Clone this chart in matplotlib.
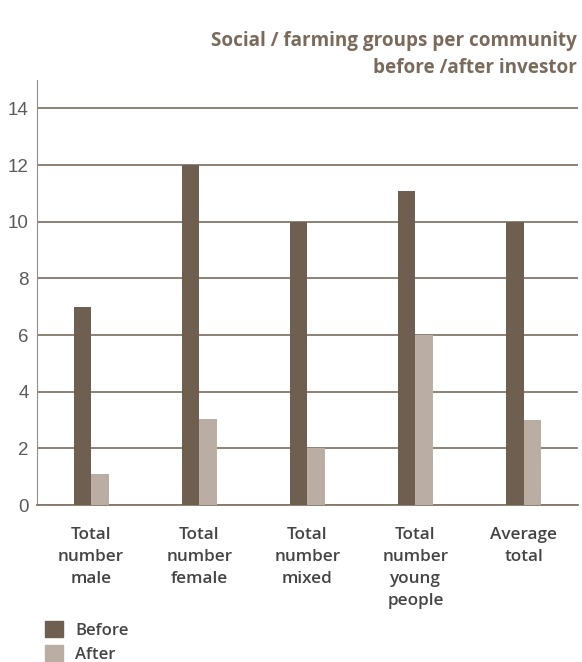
import numpy as np
import matplotlib.pyplot as plt
from matplotlib.patches import Patch

# data
categories = ["Total\nnumber\nmale", "Total\nnumber\nfemale", "Total\nnumber\nmixed",
              "Total\nnumber\nyoung\npeople", "Average\ntotal"]
before = [7.0, 12.0, 10.0, 11.1, 10.0]
after = [1.1, 3.05, 2.0, 6.0, 3.0]
yticks = [0, 2, 4, 6, 8, 10, 12, 14]

c_before = "#6f5f50"
c_after = "#b9ada4"
c_grid = "#85776a"
lab_font = {"family": "Open Sans", "weight": "semibold"}

fig = plt.figure(figsize=(5.82, 6.62), dpi=100)
ax = fig.add_axes([0.0636, 0.237, 0.929, 0.642])

x = np.arange(len(categories))
w = 0.162
ax.bar(x - w/2, before, w, color=c_before, zorder=3)
ax.bar(x + w/2, after, w, color=c_after, zorder=3)

ax.set_xlim(-0.5, len(categories) - 0.5)
ax.set_ylim(0, 15)
ax.set_yticks(yticks)
ax.set_yticklabels([str(t) for t in yticks], fontsize=13.5, color="#5a5a5a",
                   family="Liberation Sans")
ax.tick_params(axis="y", length=0, pad=6)
ax.set_xticks(x)
ax.set_xticklabels(categories, fontsize=12.3, color="#444444", linespacing=1.5, **lab_font)
ax.tick_params(axis="x", length=0, pad=16)

ax.yaxis.grid(True, color=c_grid, linewidth=1.3, zorder=0)
for s in ["top", "right"]:
    ax.spines[s].set_visible(False)
ax.spines["left"].set_color("#9a8c80")
ax.spines["bottom"].set_color(c_grid)
ax.spines["bottom"].set_linewidth(1.3)

fig.text(577/582, 1 - 54.5/662, "Social / farming groups per community\nbefore /after investor",
         ha="right", va="center", fontsize=13.6, color="#7a6a5c", linespacing=1.45,
         family="Open Sans", weight="bold")

handles = [Patch(color=c_before, label="Before"), Patch(color=c_after, label="After")]
fig.legend(handles=handles, loc="upper left", bbox_to_anchor=(30/582, 1 - 606/662),
           frameon=False, handlelength=1.1, handleheight=1.1, handletextpad=0.7,
           labelspacing=0.4, prop={"family": "Open Sans", "weight": "semibold", "size": 12},
           labelcolor="#444444")

fig.savefig("out.png", dpi=100)
